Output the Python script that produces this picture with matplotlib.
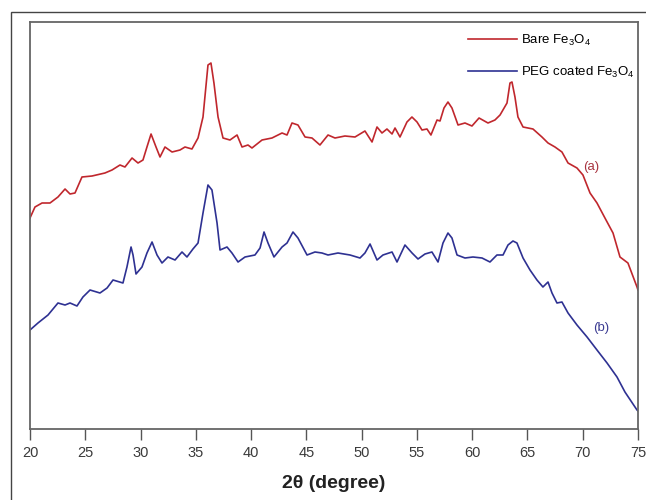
import matplotlib
matplotlib.use("Agg")
import matplotlib.pyplot as plt
from matplotlib.patches import Rectangle

# Bare Fe3O4, curve (a): 2theta (deg) and intensity (a.u.)
bare_2theta = [20.00, 20.45, 21.09, 21.81, 22.53, 23.17, 23.62, 24.07, 24.70, 25.61,
               26.78, 27.42, 28.14, 28.59, 29.23, 29.77, 30.22, 30.58, 30.95, 31.40,
               31.76, 32.21, 32.85, 33.57, 34.02, 34.65, 35.20, 35.65, 36.10, 36.37,
               36.64, 37.01, 37.46, 38.09, 38.73, 39.18, 39.72, 40.08, 40.99, 41.89,
               42.80, 43.25, 43.70, 44.24, 44.88, 45.51, 46.23, 46.96, 47.59, 48.49,
               49.40, 50.30, 50.94, 51.39, 51.84, 52.29, 52.75, 53.02, 53.47, 54.10,
               54.55, 55.01, 55.46, 55.91, 56.27, 56.82, 57.09, 57.45, 57.81, 58.17,
               58.72, 59.35, 59.98, 60.62, 61.43, 62.06, 62.52, 63.15, 63.42, 63.60,
               63.87, 64.14, 64.60, 65.50, 66.31, 66.86, 67.49, 68.12, 68.67, 69.48,
               70.02, 70.66, 71.29, 72.01, 72.74, 73.37, 74.09, 74.91, 75.00]
bare_int = [282, 293, 297, 297, 303, 311, 306, 307, 323, 324,
            327, 330, 335, 333, 342, 337, 340, 353, 366, 353,
            343, 353, 348, 350, 353, 351, 362, 383, 435, 437,
            417, 383, 362, 360, 365, 353, 355, 352, 360, 362,
            367, 365, 377, 375, 363, 362, 355, 365, 362, 364,
            363, 369, 358, 373, 367, 371, 366, 372, 363, 378,
            383, 378, 370, 371, 365, 380, 379, 392, 398, 392,
            375, 377, 374, 382, 377, 380, 385, 397, 417, 418,
            403, 383, 373, 371, 363, 357, 353, 348, 337, 332,
            325, 307, 297, 282, 267, 243, 237, 213, 210]

# PEG coated Fe3O4, curve (b)
peg_2theta = [20.00, 20.72, 21.63, 22.53, 23.17, 23.62, 24.25, 24.79, 25.43, 26.33,
              26.97, 27.51, 28.41, 28.77, 29.14, 29.32, 29.59, 30.13, 30.58, 31.04,
              31.49, 31.94, 32.48, 33.12, 33.75, 34.20, 34.74, 35.20, 35.65, 36.10,
              36.46, 36.92, 37.19, 37.82, 38.27, 38.82, 39.45, 40.35, 40.81, 41.17,
              41.53, 42.07, 42.80, 43.25, 43.79, 44.24, 45.06, 45.78, 46.41, 46.96,
              47.86, 48.95, 49.85, 50.30, 50.76, 51.39, 51.93, 52.75, 53.20, 53.92,
              54.56, 55.10, 55.73, 56.36, 56.91, 57.36, 57.81, 58.17, 58.63, 59.35,
              60.07, 60.89, 61.61, 62.24, 62.79, 63.24, 63.69, 64.05, 64.60, 65.23,
              65.86, 66.40, 66.86, 67.22, 67.67, 68.12, 68.67, 69.48, 70.39, 71.29,
              72.20, 73.10, 73.82, 74.91, 75.00]
peg_int = [170, 177, 185, 197, 195, 197, 194, 203, 210, 207,
           212, 220, 217, 233, 253, 245, 226, 233, 247, 258,
           245, 237, 243, 240, 248, 243, 251, 257, 287, 315,
           310, 277, 250, 253, 247, 238, 243, 245, 252, 268,
           257, 243, 253, 257, 268, 262, 245, 248, 247, 245,
           247, 245, 242, 247, 256, 240, 245, 248, 238, 255,
           247, 241, 246, 248, 238, 257, 267, 262, 245, 242,
           243, 242, 238, 245, 245, 255, 259, 257, 242, 230,
           220, 213, 218, 207, 197, 198, 187, 175, 163, 150,
           137, 123, 108, 90, 89]

x_ticks = [20, 25, 30, 35, 40, 45, 50, 55, 60, 65, 70, 75]

plt.rcParams['font.family'] = ['Liberation Sans', 'DejaVu Sans']
plt.rcParams['mathtext.fontset'] = 'custom'
plt.rcParams['mathtext.rm'] = 'Liberation Sans'

red = '#c0272d'
blue = '#2e3192'

fig = plt.figure(figsize=(6.46, 5.00), dpi=100)
ax = fig.add_axes([30 / 646, 1 - 429 / 500, 608 / 646, 407 / 500])

ax.plot(bare_2theta, bare_int, color=red, lw=1.2, label='Bare Fe$_3$O$_4$')
ax.plot(peg_2theta, peg_int, color=blue, lw=1.2, label='PEG coated Fe$_3$O$_4$')

ax.text(70.0, 333, '(a)', color='#a8333f', fontsize=9.5, ha='left', va='center')
ax.text(70.9, 172, '(b)', color='#3b3b92', fontsize=9.5, ha='left', va='center')

ax.set_xlim(20, 75)
ax.set_ylim(71, 478)
ax.set_xticks(x_ticks)
ax.set_yticks([])
ax.tick_params(axis='x', direction='out', length=8, width=1, color='#555555',
               labelsize=10.5, labelcolor='#3a3a3a', pad=4)
for s in ax.spines.values():
    s.set_color('#666666')
    s.set_linewidth(1.3)

ax.set_xlabel('2θ (degree)', fontsize=14, fontweight='bold', color='#222222', labelpad=11)

leg = ax.legend(loc='upper right', bbox_to_anchor=(1.012, 1.0), frameon=False,
                fontsize=9.5, handlelength=3.7, handletextpad=0.3,
                labelspacing=1.3, borderpad=0.7, borderaxespad=0.1)

# outer frame around the figure
fig.patches.append(Rectangle((11 / 646, -0.1), 1.2, 1.1 - 12 / 500, transform=fig.transFigure,
                             fill=False, edgecolor='#444444', lw=1.0))

fig.savefig('out.png', dpi=100)
